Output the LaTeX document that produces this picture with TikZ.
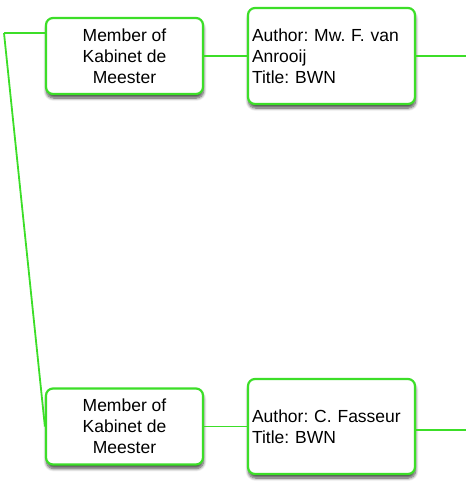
\documentclass[tikz,border=0pt]{standalone}
\usepackage{fontspec}
\setmainfont{Liberation Sans}
\usetikzlibrary{shadows.blur}
\definecolor{lgreen}{RGB}{60,222,40}
\tikzset{
  box/.style={draw=lgreen, line width=2.2pt, rounded corners=7pt, fill=white,
    blur shadow={shadow xshift=0.5pt, shadow yshift=-4pt, shadow blur steps=8, shadow blur radius=3pt, shadow opacity=70},
    font=\fontsize{17.5}{21}\selectfont\frenchspacing, inner sep=3pt},
  member/.style={box, minimum width=157pt, minimum height=76pt, align=center},
  author/.style={box, minimum width=167pt, minimum height=96pt, text width=159pt, align=left},
  link/.style={draw=lgreen, line width=1.8pt}
}
\begin{document}
\begin{tikzpicture}[x=1pt,y=-1pt]
\useasboundingbox (0,0) rectangle (466,491);
\coordinate (s) at (4,33);
\coordinate (e1) at (466,56);
\coordinate (e2) at (466,430);
% positions of the boxes
\path (124.5,56) coordinate (c1) (331.5,56) coordinate (c2)
      (124.5,426.5) coordinate (c3) (331.5,426.5) coordinate (c4);
% boxes
\node[member] (b1) at (c1) {Member of\\Kabinet de\\Meester};
\node[author] (b2) at (c2) {Author: Mw. F. van\\Anrooij\\Title: BWN};
\node[member] (b3) at (c3) {Member of\\Kabinet de\\Meester};
\node[author, minimum height=95pt] (b4) at (c4) {Author: C. Fasseur\\Title: BWN};
% connectors
\draw[link] (s) -- (s -| b1.west);
\draw[link] (s) -- (b3.west);
\draw[link] (b1.east) -- (b2.west);
\draw[link] (b2.east) -- (e1);
\draw[link] (b3.east) -- (b4.west);
\draw[link] (b4.east |- e2) -- (e2);
\end{tikzpicture}
\end{document}
